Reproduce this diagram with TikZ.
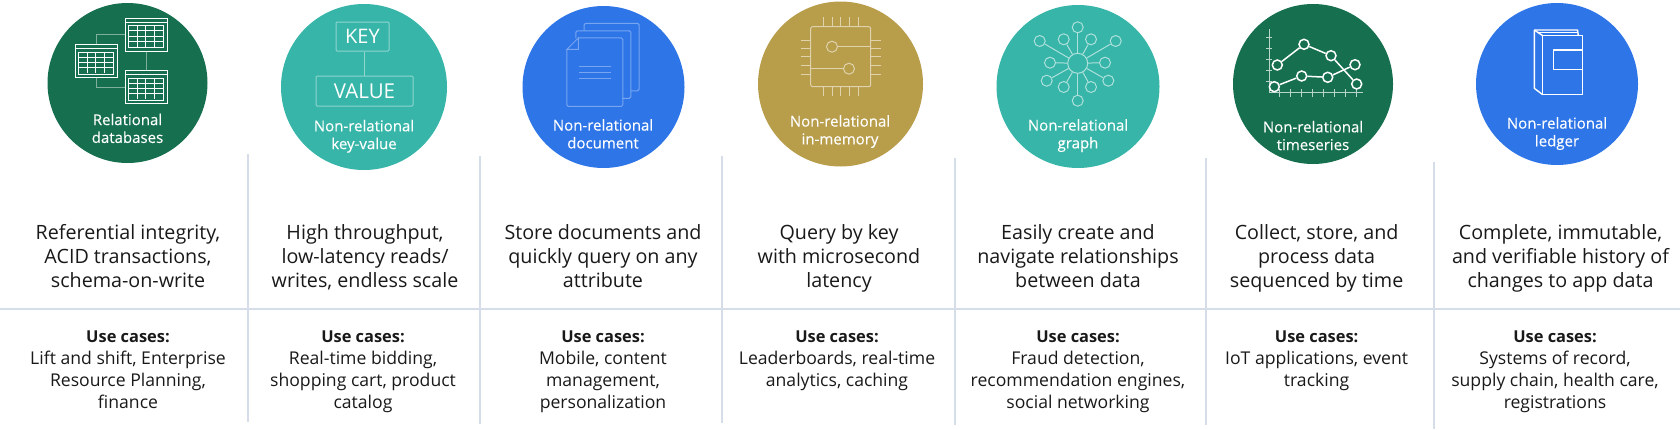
\documentclass[tikz,border=0pt]{standalone}
\usepackage{fontspec}
\setmainfont{Open Sans}
\newfontfamily\bubblefont[FakeBold=0.25]{Open Sans}
\newcommand{\usehead}{{\bfseries\fontsize{16.4}{22}\selectfont Use cases:}}
\definecolor{dbgreen}{HTML}{16704F}
\definecolor{dbteal}{HTML}{36B5A8}
\definecolor{dbblue}{HTML}{2E75E8}
\definecolor{dbgold}{HTML}{B89D4B}
\definecolor{rulegray}{HTML}{D5DEE8}
\begin{document}
\begin{tikzpicture}[x=1pt,y=-1pt,
    bubble/.style={circle, fill=#1, inner sep=0pt},
    bubbletext/.style={anchor=north, align=center, inner sep=0pt, text=white, font=\fontsize{15}{17.8}\bubblefont},
    desc/.style={anchor=north, align=center, inner sep=0pt, text=black!90, font=\fontsize{19.7}{23.8}\selectfont},
    usecase/.style={anchor=north, align=center, inner sep=0pt, text=black!90, font=\fontsize{17.6}{22}\selectfont},
    rule/.style={rulegray, line width=2pt},
    table/.style={draw=white, line width=1pt, fill=dbgreen, minimum width=42pt, minimum height=33pt, inner sep=0pt},
    tablelink/.style={draw=dbgreen!55!white, line width=1pt},
    gridline/.style={draw=white, line width=.8pt},
    kvbox/.style={draw=dbteal!55!white, line width=1pt, rounded corners=1pt, text=white, inner sep=0pt},
    sheet/.style={draw=dbblue!65!white, line width=1pt, fill=dbblue, rounded corners=1.5pt, minimum width=55pt, minimum height=67.5pt, inner sep=0pt},
    sheetline/.style={draw=dbblue!65!white, line width=1pt},
    chipline/.style={draw=dbgold!45!white, line width=1pt},
    pin/.style={circle, draw=dbgold!45!white, line width=1pt, minimum size=11pt, inner sep=0pt},
    spoke/.style={circle, draw=dbteal!40!white, line width=1pt, fill=dbteal, minimum size=11pt, inner sep=0pt},
    point/.style={circle, draw=white, line width=1.5pt, minimum size=10pt, inner sep=0pt},
    plotline/.style={draw=white, line width=1.5pt},
    axisline/.style={draw=dbgreen!30!white, line width=1pt},
    ledgerline/.style={draw=white, line width=1.4pt, line join=round}]
\useasboundingbox (0,0) rectangle (1680,429);
% Rules
\draw[rule] (0,309) -- (1680,309);
\draw[rule] (247.7,154) -- (247.7,422);
\draw[rule] (480.3,156) -- (480.3,424);
\draw[rule] (722.3,156) -- (722.3,423);
\draw[rule] (955.3,158) -- (955.3,425);
\draw[rule] (1206,158) -- (1206,425);
\draw[rule] (1433.5,162) -- (1433.5,429);
% Circles
\node[bubble=dbgreen, minimum size=160pt] (rel) at (127.5,83) {};
\node[bubble=dbteal, minimum size=166pt] (kv) at (364,87) {};
\node[bubble=dbblue, minimum size=162pt] (doc) at (603.5,87) {};
\node[bubble=dbgold, minimum size=165pt] (mem) at (840.5,84) {};
\node[bubble=dbteal, minimum size=163pt] (graph) at (1078,86.5) {};
\node[bubble=dbgreen, minimum size=160pt] (time) at (1313,84) {};
\node[bubble=dbblue, minimum size=162pt] (ledger) at (1557,84) {};
% Circle labels
\node[bubbletext] (rellabel) at (127.5,113.5) {Relational\\databases};
\node[bubbletext] (kvlabel) at (364,119.7) {Non-relational\\key-value};
\node[bubbletext] (doclabel) at (603,119) {Non-relational\\document};
\node[bubbletext] (memlabel) at (840,115) {Non-relational\\in-memory};
\node[bubbletext] (graphlabel) at (1078,119) {Non-relational\\graph};
\node[bubbletext] (timelabel) at (1313,120.7) {Non-relational\\timeseries};
\node[bubbletext] (ledgerlabel) at (1557,117) {Non-relational\\ledger};
% Descriptions
\node[desc] (reldesc) at (128,224.5) {Referential integrity,\\ACID transactions,\\schema-on-write};
\node[desc] (kvdesc) at (365,224.5) {High throughput,\\low-latency reads/\\writes, endless scale};
\node[desc] (docdesc) at (603,224.5) {Store documents and\\quickly query on any\\attribute};
\node[desc] (memdesc) at (839,224.5) {Query by key\\with microsecond\\latency};
\node[desc] (graphdesc) at (1078,224.5) {Easily create and\\navigate relationships\\between data};
\node[desc] (timedesc) at (1316.6,224.5) {Collect, store, and\\process data\\sequenced by time};
\node[desc] (ledgerdesc) at (1560.5,224.5) {Complete, immutable,\\and verifiable history of\\changes to app data};
% Use cases
\node[usecase] (reluse) at (128,331) {\usehead\\Lift and shift, Enterprise\\Resource Planning,\\finance};
\node[usecase] (kvuse) at (363,331) {\usehead\\Real-time bidding,\\shopping cart, product\\catalog};
\node[usecase] (docuse) at (603,331) {\usehead\\Mobile, content\\management,\\personalization};
\node[usecase] (memuse) at (837,331) {\usehead\\Leaderboards, real-time\\analytics, caching};
\node[usecase] (graphuse) at (1078,331) {\usehead\\Fraud detection,\\recommendation engines,\\social networking};
\node[usecase] (timeuse) at (1316.6,331) {\usehead\\IoT applications, event\\tracking};
\node[usecase] (ledgeruse) at (1555,331) {\usehead\\Systems of record,\\supply chain, health care,\\registrations};
% Tables
\coordinate (bendtop) at (96,34);
\coordinate (bendlow) at (96,87);
\node[table] (tabletop) at (146,34.5) {};
\node[table] (tableleft) at (96,61) {};
\node[table] (tablelow) at (146,87) {};
\draw[tablelink] (tableleft.north) -- (bendtop) -- (bendtop -| tabletop.west);
\draw[tablelink] (tableleft.south) -- (bendlow) -- (bendlow -| tablelow.west);
\draw[tablelink] (tabletop.south) -- (tablelow.north);
\foreach \tab in {tabletop,tableleft,tablelow} {
    \draw[gridline] ([yshift=-4.5pt]\tab.north west) -- ([yshift=-4.5pt]\tab.north east);
    \draw[gridline] ([shift={(4pt,-8pt)}]\tab.north west) coordinate (g\tab) rectangle ([shift={(-4pt,4pt)}]\tab.south east);
    \foreach \i in {1,2,3} {
        \draw[gridline] ([xshift=\i*8.5pt]g\tab) -- ++(0,21);
        \draw[gridline] ([yshift=-\i*5.25pt]g\tab) -- ++(34,0);
    }
}
% Key and value
\node[kvbox, minimum width=53pt, minimum height=29pt, font=\fontsize{20}{20}\selectfont] (key) at (362.5,36.5) {KEY};
\node[kvbox, minimum width=97pt, minimum height=30pt, font=\fontsize{20.5}{20}\selectfont] (value) at (364.5,91) {VALUE};
\draw[draw=dbteal!55!white, line width=1pt] ([xshift=1.5pt]key.south) -- ([xshift=-.5pt]value.north);
% Documents
\node[sheet] (sheetback) at (611.6,57) {};
\node[sheet] (sheetmid) at (603.3,64.5) {};
\node[sheet, draw=none] (sheetfront) at (594.8,72.2) {};
\draw[sheetline] ([yshift=-11.5pt]sheetfront.north west) -- ([xshift=11.5pt]sheetfront.north west) -- ++(0,11.5) -- cycle;
\draw[sheetline, rounded corners=1.5pt]
    ([yshift=-11.5pt]sheetfront.north west) -- (sheetfront.south west) -- (sheetfront.south east)
    -- (sheetfront.north east) -- ([xshift=11.5pt]sheetfront.north west);
\foreach \y in {66,72,78}
    \draw[sheetline] (579,\y) -- (610.7,\y);
% Chip
\node[draw=dbgold!45!white, line width=1pt, rounded corners=2pt, minimum size=60pt, inner sep=0pt] (chip) at (840.7,56.7) {};
\foreach \x in {-17.4,-8.7,0,8.6,17.3} {
    \draw[chipline] ([xshift=\x pt]chip.north) -- ++(0,-9.5);
    \draw[chipline] ([xshift=\x pt]chip.south) -- ++(0,9);
}
\foreach \y in {-17.4,-8.7,0,8.6,16.6} {
    \draw[chipline] ([yshift=\y pt]chip.west) -- ++(-9.7,0);
    \draw[chipline] ([yshift=\y pt]chip.east) -- ++(9.6,0);
}
\node[pin] (pinone) at (832,46.7) {};
\node[pin] (pintwo) at (849,68.7) {};
\draw[chipline] (pinone) -- (pinone -| chip.east);
\draw[chipline] (pintwo) -- (pintwo -| chip.west);
% Graph
\node[spoke, minimum size=20pt] (hub) at (1077.7,63.3) {};
\foreach \x/\y [count=\n] in {1077.7/27.3,1077.7/100.7,1063.7/39.3,1091/39.3,1050/62.7,1105/62.7,1063.7/87,1091/87,1039.7/41,1115.7/41,1046.7/80.7,1108.3/80.7} {
    \node[spoke] (sat\n) at (\x,\y) {};
    \draw[draw=dbteal!40!white, line width=1pt] (hub) -- (sat\n);
}
% Time series
\coordinate (axistop) at (1269,29.3);
\coordinate (axisorigin) at (1269,92);
\coordinate (axisend) at (1363,92);
\draw[axisline] (axistop) -- (axisorigin) -- (axisend);
\foreach \y in {37.7,48.3,59.3,70.7,81.7}
    \draw[axisline] (1266,\y) -- (1272,\y);
\foreach \x in {1279,1290,1301,1312.3,1323.3,1334.3,1345.7,1356.7}
    \draw[axisline] (\x,89) -- (\x,96.5);
\node[point] (a1) at (1277.3,65) {};
\node[point] (a2) at (1304,44.3) {};
\node[point] (a3) at (1331,55.7) {};
\node[point] (a4) at (1356.7,84) {};
\node[point] (b1) at (1274.3,86.7) {};
\node[point] (b2) at (1301.7,76) {};
\node[point] (b3) at (1327.7,77.3) {};
\node[point] (b4) at (1355,64.7) {};
\foreach \u/\v in {a1/a2,a2/a3,a3/a4,b1/b2,b2/b3,b3/b4}
    \draw[plotline] (\u) -- (\v);
% Ledger
\draw[ledgerline] (1534.3,30) -- (1577.5,30) -- (1578.3,35.7);
\draw[ledgerline] (1538.5,32.7) -- (1578.3,32.7);
\draw[ledgerline] (1542.7,35.7) rectangle (1582.7,94.7);
\draw[ledgerline] (1534.3,30) -- (1542.7,35.7);
\draw[ledgerline] (1534.3,30) -- (1534.3,88.3) -- (1542.7,94.7);
\draw[ledgerline] (1553.3,50) rectangle (1582.7,69.3);
\end{tikzpicture}
\end{document}
